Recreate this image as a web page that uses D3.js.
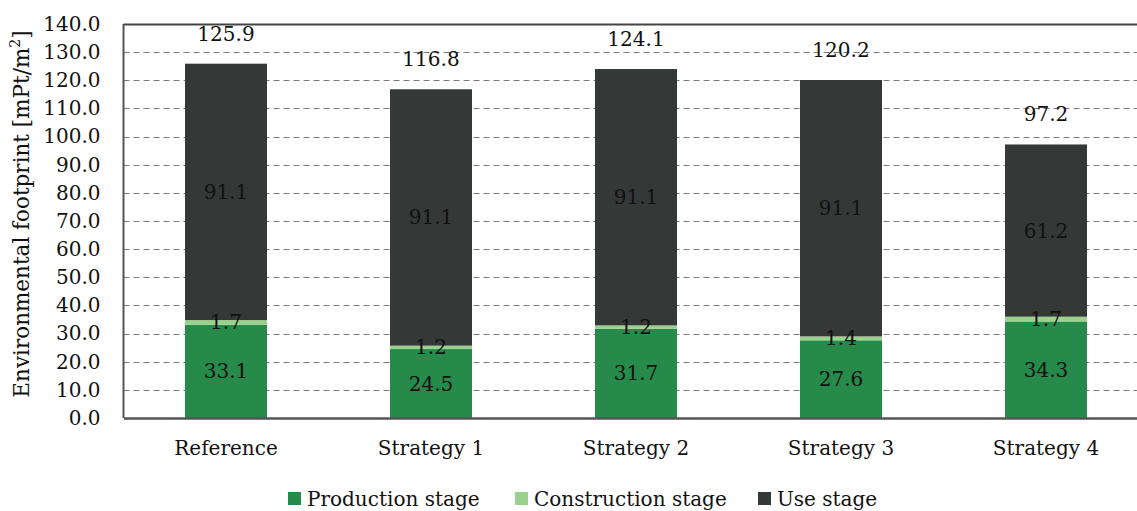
<!DOCTYPE html>
<html>
<head>
<meta charset="utf-8">
<script src="https://cdn.jsdelivr.net/npm/d3@7"></script>
<style>
  html, body { margin: 0; padding: 0; background: #fff; }
  svg { display: block; font-family: "DejaVu Serif", serif; }
</style>
</head>
<body>
<svg id="chart" width="1137" height="511"></svg>
<script>
const categories = ["Reference", "Strategy 1", "Strategy 2", "Strategy 3", "Strategy 4"];
const production = [33.1, 24.5, 31.7, 27.6, 34.3];
const construction = [1.7, 1.2, 1.2, 1.4, 1.7];
const useStage = [91.1, 91.1, 91.1, 91.1, 61.2];
const totals = [125.9, 116.8, 124.1, 120.2, 97.2];
const seriesNames = ["Production stage", "Construction stage", "Use stage"];
const seriesColors = ["#258A4A", "#9AD18D", "#343837"];
const yTicks = [0, 10, 20, 30, 40, 50, 60, 70, 80, 90, 100, 110, 120, 130, 140];

const svg = d3.select("#chart");
const margin = { left: 123.5, top: 24, right: 1148.5, bottom: 418 };

const x = d3.scaleBand().domain(categories).range([margin.left, margin.right])
  .paddingInner(0.6).paddingOuter(0.3);
const y = d3.scaleLinear().domain([0, 140]).range([margin.bottom, margin.top]);

// gridlines
svg.append("g").selectAll("line").data(yTicks.filter(t => t > 0 && t < 140)).join("line")
  .attr("x1", margin.left).attr("x2", margin.right)
  .attr("y1", d => Math.round(y(d)) + 0.5).attr("y2", d => Math.round(y(d)) + 0.5)
  .attr("stroke", "#7a7a7a").attr("stroke-width", 1.2).attr("stroke-dasharray", "6,4");

// stacked data
const table = categories.map((c, i) => ({ cat: c, p: production[i], c: construction[i], u: useStage[i] }));
const stack = d3.stack().keys(["p", "c", "u"])(table);
const vals = [production, construction, useStage];

stack.forEach((layer, si) => {
  svg.append("g").selectAll("rect").data(layer).join("rect")
    .attr("x", d => x(d.data.cat))
    .attr("width", x.bandwidth())
    .attr("y", d => y(d[1]))
    .attr("height", d => y(d[0]) - y(d[1]))
    .attr("fill", seriesColors[si]);
});

// segment labels
stack.forEach((layer, si) => {
  svg.append("g").selectAll("text").data(layer).join("text")
    .attr("x", d => x(d.data.cat) + x.bandwidth() / 2)
    .attr("y", d => (y(d[0]) + y(d[1])) / 2)
    .attr("dy", "0.35em")
    .attr("text-anchor", "middle")
    .attr("font-size", 20)
    .attr("fill", "#111")
    .text((d, i) => vals[si][i].toFixed(1));
});

// totals
svg.append("g").selectAll("text").data(categories).join("text")
  .attr("x", d => x(d) + x.bandwidth() / 2)
  .attr("y", (d, i) => y(totals[i]) - 23)
  .attr("text-anchor", "middle")
  .attr("font-size", 20)
  .attr("fill", "#111")
  .text((d, i) => totals[i].toFixed(1));

// plot border (top + left)
svg.append("line").attr("x1", margin.left).attr("x2", margin.right)
  .attr("y1", margin.top + 0.5).attr("y2", margin.top + 0.5)
  .attr("stroke", "#444").attr("stroke-width", 2);
svg.append("line").attr("x1", margin.left).attr("x2", margin.left)
  .attr("y1", margin.top).attr("y2", margin.bottom)
  .attr("stroke", "#555").attr("stroke-width", 2);

// y axis
const yAxis = d3.axisLeft(y).tickValues(yTicks).tickSize(0).tickPadding(23).tickFormat(d => d.toFixed(1));
const ya = svg.append("g").attr("transform", `translate(${margin.left},0)`).call(yAxis);
ya.select(".domain").remove();
ya.selectAll("text").attr("font-size", 20).attr("font-family", "DejaVu Serif").attr("fill", "#111");

// x axis
const xAxis = d3.axisBottom(x).tickSize(0).tickPadding(23);
const xa = svg.append("g").attr("transform", `translate(0,${margin.bottom})`).call(xAxis);
xa.select(".domain").attr("stroke", "#555").attr("stroke-width", 2.5);
xa.selectAll("text").attr("font-size", 20).attr("font-family", "DejaVu Serif").attr("fill", "#111");

// y title
const yt = svg.append("text")
  .attr("transform", `translate(29,${(margin.top + margin.bottom) / 2 - 7}) rotate(-90)`)
  .attr("text-anchor", "middle")
  .attr("font-size", 21.5)
  .attr("fill", "#111");
yt.append("tspan").text("Environmental footprint [mPt/m");
yt.append("tspan").attr("font-size", 14).attr("dy", -9).text("2");
yt.append("tspan").attr("dy", 9).text("]");

// legend
const legendX = [288, 515, 758];
const lg = svg.append("g");
seriesNames.forEach((n, i) => {
  lg.append("rect").attr("x", legendX[i]).attr("y", 492).attr("width", 13).attr("height", 13)
    .attr("fill", seriesColors[i]);
  lg.append("text").attr("x", legendX[i] + 19).attr("y", 506)
    .attr("font-size", 20).attr("fill", "#111").text(n);
});
</script>
</body>
</html>
